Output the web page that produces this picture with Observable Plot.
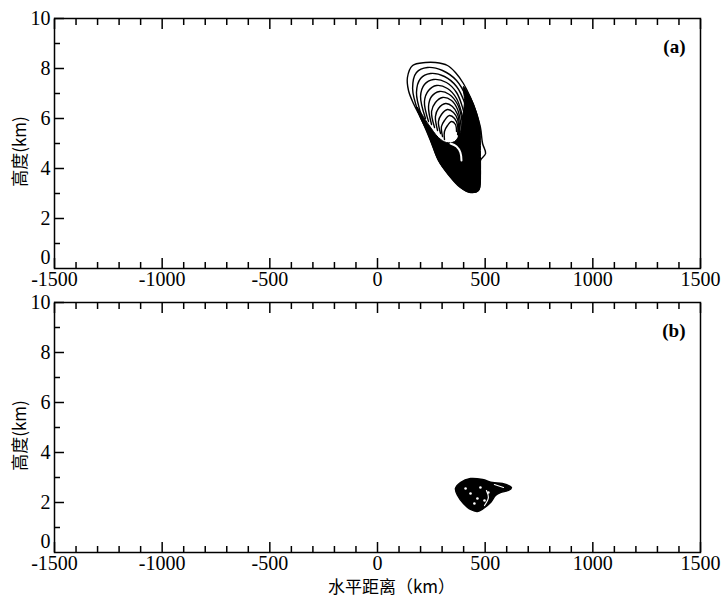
<!DOCTYPE html>
<html><head><meta charset="utf-8">
<script src="https://cdn.jsdelivr.net/npm/d3@7"></script>
<script src="https://cdn.jsdelivr.net/npm/@observablehq/plot@0.6"></script>
<style>
body{margin:0;background:#fff;}
#chart{width:722px;height:602px;}
#chart svg{display:block;}
</style></head><body><div id="chart"></div>
<script>
// Axis ticks
const xMajorTicks = [-1500, -1000, -500, 0, 500, 1000, 1500];
const xMinorTicks = [-1400, -1300, -1200, -1100, -900, -800, -700, -600, -400, -300, -200, -100, 100, 200, 300, 400, 600, 700, 800, 900, 1100, 1200, 1300, 1400];
const yMajorTicks = [2, 4, 6, 8, 10];
const yZeroTick = [0];
const yMinorTicks = [1, 3, 5, 7, 9];
const panelLabels = ["(a)", "(b)"];
const yTitle = "高度(km)";
const xTitle = "水平距离（km）";

// Panel (a): outermost contour [distance km, height km]
const outerA = [[223,8.24],[163,8.12],[139,7.64],[144,7.12],[167,6.6],[200,6.04],[246,5.12],[283,4.32],[325,3.8],[385,3.24],[432,3.04],[469,3.12],[478,3.8],[478,4.32],[502,4.6],[488,5.0],[478,5.64],[455,6.32],[432,6.84],[399,7.4],[362,7.84],[325,8.12],[269,8.24]];
// Panel (a): inner contour arcs
const ringsA = [
  [[190,6.24],[163,7.2],[181,7.84],[232,8.04],[302,7.92],[367,7.52],[413,6.84],[441,6.0]],
  [[204,6.12],[181,7.04],[200,7.6],[246,7.8],[311,7.68],[367,7.28],[404,6.64],[427,5.84]],
  [[223,6.0],[200,6.88],[218,7.36],[260,7.56],[320,7.44],[367,7.04],[395,6.44],[413,5.72]],
  [[237,5.88],[218,6.68],[237,7.12],[274,7.32],[325,7.2],[367,6.8],[390,6.24],[404,5.6]],
  [[251,5.76],[237,6.48],[251,6.88],[288,7.08],[334,6.96],[372,6.56],[390,6.04],[395,5.48]],
  [[265,5.64],[251,6.28],[269,6.64],[302,6.84],[344,6.72],[372,6.36],[385,5.88],[390,5.36]],
  [[279,5.52],[269,6.08],[283,6.4],[316,6.6],[348,6.48],[372,6.16],[381,5.68],[381,5.24]],
  [[293,5.4],[283,5.88],[297,6.16],[325,6.36],[353,6.24],[372,5.96],[376,5.52],[376,5.12]],
  [[302,5.28],[297,5.68],[311,5.92],[334,6.12],[358,6.0],[372,5.72],[372,5.36]],
  [[311,5.16],[311,5.48],[325,5.72],[344,5.88],[362,5.76],[367,5.48]]
];
// Panel (a): dense (merged) contour region
const coreA = [[181,6.48],[200,6.0],[228,5.52],[255,4.92],[283,4.32],[325,3.8],[385,3.24],[432,3.04],[469,3.12],[478,3.8],[478,4.72],[478,5.52],[460,6.24],[432,6.84],[399,7.28],[404,6.72],[395,6.0],[385,5.44],[358,5.08],[320,5.04],[283,5.24],[237,5.76]];
const gapA = [[339,5.0],[367,4.88],[385,4.64],[390,4.32]];

// Panel (b)
const outerB = [[362,2.56],[385,2.8],[432,2.96],[488,2.92],[534,2.8],[580,2.76],[622,2.6],[608,2.48],[571,2.4],[548,2.28],[525,2.0],[492,1.76],[464,1.64],[432,1.72],[399,1.96],[372,2.28]];
const specksB = [[409,2.56],[432,2.36],[478,2.6],[464,2.16],[497,2.08],[515,2.4],[450,1.96]];
const gapsB = [
  [[506,2.48],[515,2.2],[497,1.88]],
  [[543,2.72],[585,2.6]]
];

const pts = arr => arr.map(([x, y]) => ({x, y}));
const multi = arrs => arrs.flatMap((a, i) => a.map(([x, y]) => ({x, y, k: i})));

const serif = "Liberation Serif, serif";
const cjk = "Noto Sans CJK SC, sans-serif";

function panel({height, marginTop, marginBottom, label, withXTitle, marks}) {
  const axisStyle = {strokeWidth: 1.5, label: null, fontFamily: serif, fontSize: 20};
  return Plot.plot({
    width: 722, height, marginLeft: 54, marginRight: 22, marginTop, marginBottom,
    x: {domain: [-1500, 1500], label: null},
    y: {domain: [0, 10], label: null},
    style: {fontFamily: serif, fontSize: "20px", color: "#000", overflow: "visible"},
    marks: [
      ...marks,
      Plot.frame({stroke: "#000", strokeWidth: 1.5}),
      Plot.axisX(xMajorTicks, {...axisStyle, anchor: "bottom", tickSize: -10, tickPadding: 13, tickFormat: d => String(d)}),
      Plot.axisX(xMinorTicks, {...axisStyle, anchor: "bottom", tickSize: -6, tickFormat: () => ""}),
      Plot.axisX(xMajorTicks, {...axisStyle, anchor: "top", tickSize: -10, tickFormat: () => ""}),
      Plot.axisX(xMinorTicks, {...axisStyle, anchor: "top", tickSize: -6, tickFormat: () => ""}),
      Plot.axisY(yMajorTicks, {...axisStyle, anchor: "left", tickSize: -10, tickPadding: 14, tickFormat: d => String(d)}),
      Plot.axisY(yZeroTick, {...axisStyle, anchor: "left", tickSize: 0, tickPadding: 4, dy: -11, tickFormat: d => String(d)}),
      Plot.axisY(yMinorTicks, {...axisStyle, anchor: "left", tickSize: -6, tickFormat: () => ""}),
      Plot.text([label], {text: d => d, frameAnchor: "top-right", textAnchor: "end", lineAnchor: "top", dx: -15, dy: 21, fontWeight: "bold", fontSize: 19, fontFamily: serif}),
      Plot.text([yTitle], {text: d => d, frameAnchor: "left", textAnchor: "middle", lineAnchor: "middle", dx: -34, dy: 8, rotate: -90, fontSize: 17, fontFamily: cjk}),
      ...(withXTitle ? [Plot.text([xTitle], {text: d => d, frameAnchor: "bottom", lineAnchor: "middle", dy: 35, dx: 14, fontSize: 17, fontFamily: cjk})] : [])
    ]
  });
}

const plotA = panel({
  height: 290, marginTop: 18, marginBottom: 22, label: panelLabels[0], withXTitle: false,
  marks: [
    Plot.line(pts(coreA), {x: "x", y: "y", curve: "catmull-rom-closed", fill: "#000", stroke: "#000", strokeWidth: 1}),
    Plot.line(pts(outerA), {x: "x", y: "y", curve: "catmull-rom-closed", stroke: "#000", strokeWidth: 1.4}),
    Plot.line(multi(ringsA), {x: "x", y: "y", z: "k", curve: "catmull-rom", stroke: "#000", strokeWidth: 1.4}),
    Plot.line(pts(gapA), {x: "x", y: "y", curve: "catmull-rom", stroke: "#fff", strokeWidth: 2})
  ]
});

const plotB = panel({
  height: 312, marginTop: 12, marginBottom: 50, label: panelLabels[1], withXTitle: true,
  marks: [
    Plot.line(pts(outerB), {x: "x", y: "y", curve: "catmull-rom-closed", fill: "#000", stroke: "#000", strokeWidth: 1.4}),
    Plot.line(multi(gapsB), {x: "x", y: "y", z: "k", curve: "catmull-rom", stroke: "#fff", strokeWidth: 1.2}),
    Plot.dot(pts(specksB), {x: "x", y: "y", r: 1.3, fill: "#fff", stroke: null})
  ]
});

const chart = document.getElementById("chart");
chart.appendChild(plotA);
chart.appendChild(plotB);
</script>
</body></html>
